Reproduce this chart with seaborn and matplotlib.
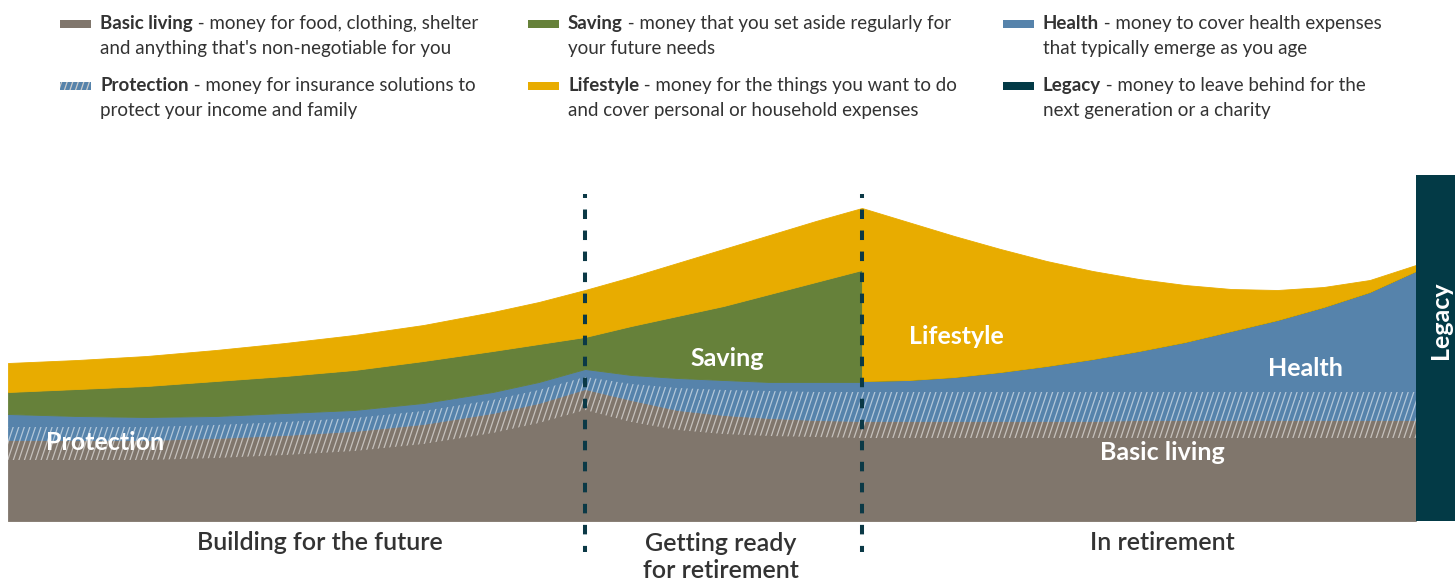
import matplotlib
matplotlib.use("Agg")
import matplotlib.pyplot as plt
import matplotlib.hatch as mhatch
from matplotlib.patches import Rectangle
from matplotlib.path import Path
import numpy as np
import seaborn as sns

# %% data (age on the x axis, amounts in arbitrary units)
# 62 appears twice: saving stops at retirement
ages = [25, 28, 31, 34, 37, 40, 43, 46, 48, 50,
        52, 54, 56, 58, 60, 62,
        62, 64, 66, 68, 70, 72, 74, 76, 78, 80, 82, 84, 86]
basic_living = [81, 81, 81, 83, 86, 90, 97, 108, 118, 132,
                121, 111, 106, 103, 101, 100,
                100, 100, 100, 100, 100, 100, 101, 101, 101, 101, 101, 101, 101]
health = [26, 24, 23, 22, 22, 21, 21, 21, 21, 20,
          25, 32, 35, 36, 38, 39,
          40, 41, 44, 49, 55, 62, 69, 78, 89, 100, 113, 128, 149]
saving = [22, 27, 31, 35, 37, 40, 42, 41, 38, 32,
          49, 62, 74, 88, 100, 112,
          0, 0, 0, 0, 0, 0, 0, 0, 0, 0, 0, 0, 0]
lifestyle = [29, 29, 30, 31, 33, 35, 36, 39, 42, 47,
             49, 53, 57, 59, 61, 62,
             173, 158, 141, 123, 105, 88, 72, 57, 42, 30, 20, 12, 6]
protection_low = [61, 61, 61, 63, 66, 70, 77, 88, 98, 111,
                  99, 91, 87, 85, 84, 83,
                  83, 83, 83, 83, 83, 83, 83, 83, 83, 83, 83, 83, 83]
protection_high = [94, 94, 94, 96, 99, 103, 110, 121, 131, 144,
                   137, 133, 131, 130, 129, 129,
                   129, 129, 129, 129, 129, 129, 129, 129, 129, 129, 129, 129, 129]
legacy_age = 86
legacy_value = 346
stage_breaks = [50, 62]

stages = ["Building for the future", "Getting ready\nfor retirement", "In retirement"]
legend_items = [
    ("Basic living", " - money for food, clothing, shelter", "and anything that's non-negotiable for you"),
    ("Saving", " - money that you set aside regularly for", "your future needs"),
    ("Health", " - money to cover health expenses", "that typically emerge as you age"),
    ("Protection", " - money for insurance solutions to", "protect your income and family"),
    ("Lifestyle", " - money for the things you want to do", "and cover personal or household expenses"),
    ("Legacy", " - money to leave behind for the", "next generation or a charity"),
]


# %% steeper '/' hatch (the default one is 45 degrees)
class SteepHatch(mhatch.HatchPatternBase):
    def __init__(self, hatch, density):
        self.n = int((hatch.count('/') + hatch.count('x') + hatch.count('X')) * density)
        self.m = self.n // 3
        self.num_vertices = (self.n + self.m) * 2 if self.n else 0

    def set_vertices_and_codes(self, vertices, codes):
        x0 = np.arange(-self.m, self.n) / self.n
        vertices[0::2, 0] = x0
        vertices[0::2, 1] = 0
        vertices[1::2, 0] = x0 + self.m / self.n
        vertices[1::2, 1] = 1
        codes[0::2] = Path.MOVETO
        codes[1::2] = Path.LINETO


mhatch._hatch_types = [SteepHatch if t is mhatch.NorthEastHatch else t
                       for t in mhatch._hatch_types]

# %% style
c_basic = "#80766c"
c_health = "#5683ab"
c_saving = "#66813a"
c_life = "#e8ac00"
c_legacy = "#033a46"
c_text = "#333333"
swatch_colors = [c_basic, c_saving, c_health, c_health, c_life, c_legacy]

sns.set_theme(style="white")
plt.rcParams["font.family"] = ["Lato", "DejaVu Sans"]
plt.rcParams["hatch.linewidth"] = 0.9

W, H = 1455, 582
fig = plt.figure(figsize=(W / 100, H / 100), dpi=100)
ax = fig.add_axes([0, 0, 1, 1])
ax.set_xlim(24.653, 87.695)
ax.set_ylim(-61, 521)
ax.axis("off")

ax.stackplot(ages, basic_living, health, saving, lifestyle,
             colors=[c_basic, c_health, c_saving, c_life],
             edgecolor="face", linewidth=0.6)
ax.fill_between(ages, protection_low, protection_high, facecolor="none",
                edgecolor=(1, 1, 1, 0.55), hatch="///", linewidth=0)
ax.bar([legacy_age], [legacy_value], width=2, align="edge", color=c_legacy, linewidth=0)

for b in stage_breaks:
    ax.plot([b, b], [327, -31], color="#0b3946", lw=2.9,
            linestyle=(1.37, (2.36, 2.86)), solid_capstyle="butt")

# area labels
lab = dict(color="white", fontsize=18, fontweight="bold", ha="center", va="center")
ax.text(29.2, 79, "Protection", **lab)
ax.text(56.15, 163, "Saving", **lab)
ax.text(66.07, 184, "Lifestyle", **lab)
ax.text(81.2, 152, "Health", **lab)
ax.text(75.0, 68, "Basic living", **lab)
ax.text(87.05, 201, "Legacy", rotation=90, **lab)

# stage labels
st = dict(color=c_text, fontsize=18, fontweight="semibold", ha="center", va="center",
          linespacing=1.2)
ax.text(38.5, -21, stages[0], **st)
ax.text(55.9, -36, stages[1], **st)
ax.text(75.0, -21, stages[2], **st)

# %% legend on top
renderer = fig.canvas.get_renderer()
col_x = [60, 528, 1003]
row_y = [29, 91]
for i, (name, rest, line2) in enumerate(legend_items):
    cx = col_x[i % 3]
    by = row_y[i // 3]
    sw = Rectangle((cx / W, 1 - (by - 1) / H), 31 / W, 8 / H, transform=fig.transFigure,
                   facecolor=swatch_colors[i], edgecolor="none")
    fig.add_artist(sw)
    if name == "Protection":
        fig.add_artist(Rectangle((cx / W, 1 - (by - 1) / H), 31 / W, 8 / H,
                                 transform=fig.transFigure, facecolor="none",
                                 edgecolor=(0.8, 0.8, 0.8), hatch="///", linewidth=0))
    tx = (cx + 40) / W
    t = fig.text(tx, 1 - by / H, name, fontsize=13.5, fontweight="bold", color=c_text, va="baseline")
    bb = t.get_window_extent(renderer)
    fig.text(bb.x1 / W, 1 - by / H, rest, fontsize=13.5, color=c_text, va="baseline")
    fig.text(tx, 1 - (by + 25) / H, line2, fontsize=13.5, color=c_text, va="baseline")

fig.savefig("out.png", dpi=100)
